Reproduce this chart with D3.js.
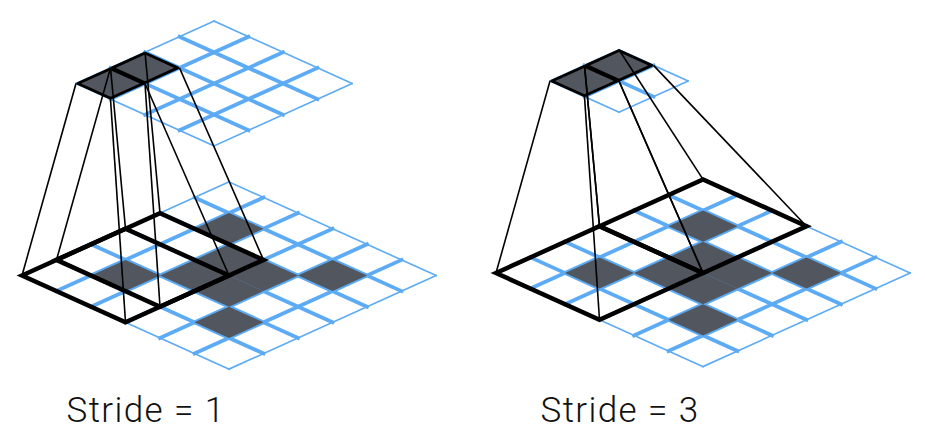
<!DOCTYPE html>
<html>
<head>
<meta charset="utf-8">
<script src="https://cdn.jsdelivr.net/npm/d3@7"></script>
<style>
  body { margin: 0; background: #fff; }
  svg { display: block; }
</style>
</head>
<body>
<svg id="chart" width="925" height="444"></svg>
<script>
// values
var strides = [1, 3];
var labels = ["Stride = 1", "Stride = 3"];
var topSizes = [4, 2];          // output grid per panel
var bottomSize = 6;             // input grid
var kernelSize = 3;
var topCells = [[0, 0], [1, 0]];            // highlighted output cells
var grayCells = [[1, 1], [2, 2], [3, 3], [4, 4], [3, 2], [2, 3], [4, 1], [1, 4]];

var blue = "#5cabf4", gray = "#52565e";

var svg = d3.select("#chart");

// isometric projection: u goes up-right, v goes down-right
var sx = d3.scaleLinear().domain([0, 1]).range([0, 34.5]);
var sy = d3.scaleLinear().domain([0, 1]).range([0, 15.6]);

var panelX = d3.scaleOrdinal().domain(strides).range([22, 496]);
var bottomY = d3.scaleOrdinal().domain(strides).range([275.5, 273]);
var topDx = 54, topDy = -192;

function pt(o, u, v) { return [o[0] + sx(u + v), o[1] + sy(v - u)]; }
function quad(o, u0, v0, du, dv) {
	return [pt(o, u0, v0), pt(o, u0 + du, v0), pt(o, u0 + du, v0 + dv), pt(o, u0, v0 + dv)];
}
var line = d3.line();

function drawGrid(g, o, n) {
	var segs = [];
	for (var i = 0; i <= n; i++) {
		segs.push({ a: pt(o, i, 0), b: pt(o, i, n), edge: i == 0 || i == n });
		segs.push({ a: pt(o, 0, i), b: pt(o, n, i), edge: i == 0 || i == n });
	}
	g.selectAll(null).data(segs).enter().append("path")
		.attr("d", function(d) { return line([d.a, d.b]); })
		.attr("stroke", blue)
		.attr("stroke-width", function(d) { return d.edge ? 1.6 : 3.8; })
		.attr("stroke-linecap", "square")
		.attr("fill", "none");
}

strides.forEach(function(s, k) {
	var g = svg.append("g");
	var ob = [panelX(s), bottomY(s)];
	var ot = [ob[0] + topDx, ob[1] + topDy];

	// input grid with the shaded cells
	drawGrid(g, ob, bottomSize);
	g.selectAll(null).data(grayCells).enter().append("path")
		.attr("d", function(c) { return line(quad(ob, c[0], c[1], 1, 1)) + "Z"; })
		.attr("fill", gray);

	// kernel windows
	g.selectAll(null).data(topCells).enter().append("path")
		.attr("d", function(c) { return line(quad(ob, c[0] * s, 0, kernelSize, kernelSize)) + "Z"; })
		.attr("fill", "none")
		.attr("stroke", "#000")
		.attr("stroke-width", 4.5)
		.attr("stroke-linejoin", "miter")
		.attr("stroke-miterlimit", 10);

	// output grid
	drawGrid(g, ot, topSizes[k]);
	g.selectAll(null).data(topCells).enter().append("path")
		.attr("d", function(c) {
			var q = quad(ot, c[0], c[1], 1, 1);
			var cx = d3.mean(q, function(p) { return p[0]; }), cy = d3.mean(q, function(p) { return p[1]; });
			return line(q.map(function(p) { return [cx + (p[0] - cx) * 0.95, cy + (p[1] - cy) * 0.95]; })) + "Z";
		})
		.attr("fill", gray)
		.attr("stroke", "#000")
		.attr("stroke-width", 2.8)
		.attr("stroke-linejoin", "round");

	// pyramid edges from each output cell to its window
	var edges = [];
	topCells.forEach(function(c) {
		var a = quad(ot, c[0], c[1], 1, 1);
		var b = quad(ob, c[0] * s, 0, kernelSize, kernelSize);
		for (var i = 0; i < 4; i++) edges.push([a[i], b[i]]);
	});
	g.selectAll(null).data(edges).enter().append("path")
		.attr("d", function(d) { return line(d); })
		.attr("stroke", "#000")
		.attr("stroke-width", 1.6)
		.attr("fill", "none");

	g.append("text")
		.attr("x", ob[0] + 44.5)
		.attr("y", 422)
		.attr("font-family", "Roboto, 'Liberation Sans', sans-serif")
		.attr("font-weight", 300)
		.attr("font-size", 35)
		.attr("letter-spacing", 1.4)
		.attr("fill", "#111")
		.text(labels[k]);
});
</script>
</body>
</html>
